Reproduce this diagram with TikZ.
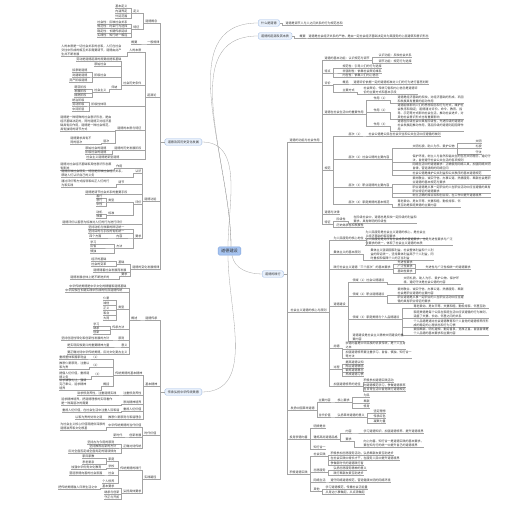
\documentclass[tikz,border=0pt]{standalone}
\usepackage{fontspec}
\setmainfont{Noto Sans CJK SC}
\XeTeXlinebreaklocale "zh"
\XeTeXlinebreakskip=0pt plus 0.5pt

\definecolor{textdark}{HTML}{333333}
\definecolor{linegray}{HTML}{A3A3A3}
\definecolor{topicfill}{HTML}{E8F0FB}
\definecolor{topicline}{HTML}{9DB9E3}
\definecolor{rootfill}{HTML}{A7C4F0}
\definecolor{rootline}{HTML}{7FA3DC}

% elbow links: right side and left side
\newcommand{\rkid}[2]{\draw[ln] (#1.south east) -- ++(2pt,0) |- (#2.south west);}
\newcommand{\lkid}[2]{\draw[ln] (#1.south west) -- ++(-2pt,0) |- (#2.south east);}

\tikzset{
  ln/.style={draw=linegray, line width=0.3pt},
  root/.style={draw=rootline, fill=rootfill, rounded corners=1.5pt, text=textdark,
    font=\fontsize{4.2}{5}\selectfont, inner xsep=3pt, inner ysep=2.2pt},
  topic/.style={draw=topicline, fill=topicfill, rounded corners=1.5pt, text=textdark,
    font=\fontsize{3.1}{4}\selectfont, inner xsep=3pt, inner ysep=1.8pt, line width=0.3pt},
  leaf/.style={font=\fontsize{3}{3.8}\selectfont, text=textdark, inner xsep=0.4pt, inner ysep=0.35pt,
    append after command={(\tikzlastnode.south west) edge[ln] (\tikzlastnode.south east)}},
  rt/.style={leaf, anchor=south west},
  lt/.style={leaf, anchor=south east},
  blk/.style={text width=#1, align=left},
}

\begin{document}
\begin{tikzpicture}[x=1pt, y=-1pt]
\useasboundingbox (0,0) rectangle (506,505);

% centre
\node[root] (root) at (229.5,251) {道德建设};

% right: top topics
\node[topic, anchor=west] (what) at (258,23) {什么是道德};
\node[rt] (what1) at (285,25) {道德是调节人与人之间关系的行为规范总和};
\draw[ln] (what.east) -- ++(2pt,0) |- (what1.south west);

\node[topic, anchor=west] (orig) at (258,36) {道德的起源及其本质};
\node[rt] (orig1) at (299,38) {概要};
\node[rt] (orig2) at (308,38) {道德是社会经济关系的产物，是由一定社会经济基础决定并为其服务的上层建筑和意识形态};
\draw[ln] (orig.east) -- ++(2pt,0) |- (orig1.south west);
\rkid{orig1}{orig2}

\node[topic, anchor=west] (dev) at (262,274) {道德的践行};

\draw[ln] ([xshift=1.5pt]root.north) to[out=90, in=180] (what.west);
\draw[ln] ([xshift=1.5pt]root.north) to[out=90, in=180] (orig.west);
\draw[ln] ([xshift=2.5pt]root.south) to[out=-80, in=180] (dev.west);

% functions and role
\node[rt] (fn) at (289,142) {道德的功能与社会作用};
\node[rt] (fn1) at (324,60) {道德的基本功能：认识规范与调节};
\foreach \i/\y/\t in {a/57/认识功能：反映社会关系, b/63/调节功能：规范行为选择}
  {\node[rt] (fn1\i) at (378,\y) {\t}; \rkid{fn1}{fn1\i}}
\node[rt] (fn2) at (324,73) {特点};
\foreach \i/\y/\t in {a/68.5/规范性：引导人们的行为选择, b/73/非强制性：依靠社会舆论维系, c/77.5/内在性：依靠人们内心信念}
  {\node[rt] (fn2\i) at (342,\y) {\t}; \rkid{fn2}{fn2\i}}
\node[rt] (fn3) at (324,85) {评价};
\node[rt] (fn3a) at (342,84) {概括};
\node[rt] (fn3b) at (353,84) {道德评价依据一定的道德标准对人们的行为进行善恶判断};
\node[rt] (fn3c) at (342,92) {主要方式};
\node[rt, blk=54pt] (fn3d) at (363,94) {社会舆论、传统习俗和内心信念是道德评价的主要方式和基本手段};
\rkid{fn3}{fn3a} \rkid{fn3}{fn3c} \rkid{fn3a}{fn3b} \rkid{fn3c}{fn3d}
\node[rt] (fn4) at (324,114) {道德在社会生活中的重要作用};
\node[rt] (fn4a) at (373,100) {作用（1）};
\node[rt, blk=66pt] (fn4b) at (397,103) {道德是经济基础的反映，对经济基础的形成、巩固和发展具有重要的能动作用};
\node[rt] (fn4c) at (373,112) {作用（2）};
\node[rt, blk=66pt] (fn4d) at (397,119) {道德能够影响人们的思想观念和行为方式，维护社会秩序和稳定；道德通过评价、命令、教育、指导、示范等方式影响社会生活，推动社会进步，对其他社会意识形式也有重要影响};
\node[rt] (fn4e) at (373,126) {作用（3）};
\node[rt, blk=66pt] (fn4f) at (397,131) {道德在阶级社会中具有阶级性，先进阶级的道德对社会发展起推动作用，落后阶级的道德则起阻碍作用};
\rkid{fn4}{fn4a} \rkid{fn4}{fn4c} \rkid{fn4}{fn4e}
\rkid{fn4a}{fn4b} \rkid{fn4c}{fn4d} \rkid{fn4e}{fn4f}
\node[rt] (fn5) at (324,170) {规范};
\node[rt] (fn51) at (348,136) {层次（1）};
\node[rt] (fn51a) at (368,136) {社会公德是公民在社会交往和公共生活中应遵循的准则};
\rkid{fn51}{fn51a}
\node[rt] (fn52) at (348,159) {层次（2）社会公德的主要内容};
\node[rt] (fn52a) at (412,148) {文明礼貌、助人为乐、爱护公物};
\foreach \i/\y/\t in {a/143/文明, b/148.5/礼貌, c/154/守法}
  {\node[rt] (fn52a\i) at (475,\y) {\t}; \rkid{fn52a}{fn52a\i}}
\node[rt, blk=78pt] (fn52b) at (412,162) {保护环境，树立人与自然和谐共生的生态文明理念，遵纪守法，自觉遵守社会公共生活的各项规则};
\node[rt, blk=78pt] (fn52c) at (412,170) {网络生活中的道德要求：正确使用网络工具，加强网络文明自律，营造清朗的网络空间};
\node[rt, blk=78pt] (fn52d) at (412,175) {社会公德是维护公共利益和公共秩序的基本道德规范};
\rkid{fn52}{fn52a} \rkid{fn52}{fn52b} \rkid{fn52}{fn52c} \rkid{fn52}{fn52d}
\node[rt] (fn53) at (348,187) {层次（3）职业道德的主要内容};
\node[rt, blk=78pt] (fn53a) at (412,184) {爱岗敬业、诚实守信、办事公道、热情服务、奉献社会是职业道德的基本规范与要求};
\node[rt, blk=78pt] (fn53b) at (412,193) {职业道德是从事一定职业的人在职业活动中应当遵循的具有职业特征的道德要求};
\node[rt, blk=78pt] (fn53c) at (412,197.5) {树立正确的择业观和创业观，在工作中提升道德境界};
\rkid{fn53}{fn53a} \rkid{fn53}{fn53b} \rkid{fn53}{fn53c}
\node[rt] (fn54) at (348,204) {层次（4）家庭美德的基本规范};
\node[rt, blk=63pt] (fn54a) at (397,207) {尊老爱幼、男女平等、夫妻和睦、勤俭持家、邻里互助是家庭美德的主要内容};
\rkid{fn54}{fn54a}
\foreach \k in {fn51,fn52,fn53,fn54} {\rkid{fn5}{\k}}
\node[rt] (fn6) at (324,214) {道德与法律};
\node[rt] (fn7) at (324,224) {特征};
\node[rt] (fn7a) at (336,221) {阶级性};
\node[rt, blk=63pt] (fn7b) at (353,223) {在阶级社会中，道德总是反映一定阶级的利益和要求，具有鲜明的阶级性};
\node[rt] (fn7c) at (336,227) {历史继承性和发展性};
\rkid{fn7}{fn7a} \rkid{fn7}{fn7c} \rkid{fn7a}{fn7b}
\foreach \k in {fn1,fn2,fn3,fn4,fn5,fn6,fn7} {\rkid{fn}{\k}}

% socialist morality
\node[rt] (soc) at (290,312) {社会主义道德的核心与原则};
\node[rt] (soc1) at (333,240) {为人民服务的核心地位};
\node[rt, blk=60pt] (soc1a) at (365,238) {为人民服务是社会主义道德的核心，是社会主义经济基础的客观要求};
\node[rt, blk=87pt] (soc1b) at (365,245.5) {为人民服务是对所有社会成员的普遍要求，也是先进性要求与广泛性要求的统一，体现了社会主义道德的本质};
\rkid{soc1}{soc1a} \rkid{soc1}{soc1b}
\node[rt] (soc2) at (333,254) {集体主义的基本原则};
\node[rt, blk=63pt] (soc2a) at (370,260) {集体主义强调国家利益、社会整体利益和个人利益的辩证统一，坚持集体利益高于个人利益，同时重视和保障个人的正当利益};
\rkid{soc2}{soc2a}
\node[rt] (soc3) at (333,269) {践行社会主义道德“三个层次”的基本要求};
\node[rt] (soc3s) at (425,269) {先进性与广泛性相统一的道德要求};
\foreach \i/\y/\t in {a/264/先进性要求, b/268.5/广泛性要求, c/273/基础性要求}
  {\node[rt] (soc3\i) at (397,\y) {\t}; \rkid{soc3}{soc3\i} \rkid{soc3\i}{soc3s}}
\node[rt] (soc4) at (333,306) {道德建设};
\node[rt] (soc4a) at (352,282) {领域（1）社会公德建设};
\node[rt, blk=57pt] (soc4a1) at (403,284) {文明礼貌、助人为乐、爱护公物、保护环境、遵纪守法是社会公德的内容};
\rkid{soc4a}{soc4a1}
\node[rt] (soc4b) at (352,296) {领域（2）职业道德建设};
\node[rt, blk=66pt] (soc4b1) at (397,295) {爱岗敬业、诚实守信、办事公道、热情服务、奉献社会是职业道德的主要内容};
\node[rt, blk=66pt] (soc4b2) at (397,303) {职业道德是从事一定职业的人在职业活动中应当遵循的具有职业特征的要求};
\rkid{soc4b}{soc4b1} \rkid{soc4b}{soc4b2}
\node[rt] (soc4c) at (352,319) {领域（3）家庭美德与个人品德建设};
\node[rt, blk=75pt] (soc4c1) at (413,308) {尊老爱幼、男女平等、夫妻和睦、勤俭持家、邻里互助};
\node[rt, blk=75pt] (soc4c2) at (413,318) {家庭美德是每个公民在家庭生活中应该遵循的行为准则，涵盖了夫妻、长幼、邻里之间的关系};
\node[rt, blk=75pt] (soc4c3) at (413,327) {个人品德是通过社会道德教育和个人自觉的道德修养所形成的稳定的心理状态和行为习惯};
\node[rt, blk=75pt] (soc4c4) at (413,335) {爱国奉献、明礼遵规、勤劳善良、宽厚正直、自强自律是个人品德的基本要求和主要内容};
\foreach \k in {soc4c1,soc4c2,soc4c3,soc4c4} {\rkid{soc4c}{\k}}
\node[rt, blk=51pt] (soc4d) at (352,341) {道德建设是社会主义精神文明建设的重要内容};
\foreach \k in {soc4a,soc4b,soc4c,soc4d} {\rkid{soc4}{\k}}
\node[rt] (soc5) at (333,348) {尚德};
\node[rt, blk=60pt] (soc5a) at (345,349) {崇德向善是中华民族的优良传统，是个人立身之本};
\node[rt, blk=66pt] (soc5b) at (345,358) {加强道德修养要注重学习、自省、慎独、知行合一等方法};
\rkid{soc5}{soc5a} \rkid{soc5}{soc5b}
\node[rt] (soc6) at (333,369) {过程};
\foreach \i/\y/\t in {a/364/提高道德认知, b/368/陶冶道德情感, c/372/锻炼道德意志, d/376/养成道德习惯}
  {\node[rt] (soc6\i) at (345,\y) {\t}; \rkid{soc6}{soc6\i}}
\node[rt] (soc7) at (333,386) {加强道德修养的途径};
\foreach \i/\y/\t in {a/382/积极参加道德实践活动, b/387/向道德模范学习，争做道德表率, c/391/在日常生活中自觉践行道德规范}
  {\node[rt] (soc7\i) at (363,\y) {\t}; \rkid{soc7}{soc7\i}}
\foreach \k in {soc1,soc2,soc3,soc4,soc5,soc6,soc7} {\rkid{soc}{\k}}

% revolutionary morality
\node[rt] (rev) at (290,410) {发扬中国革命道德};
\node[rt] (rev1) at (318,402) {主要内容};
\node[rt] (rev1a) at (337,402) {核心要求};
\foreach \i/\y/\t in {a/397/为民, b/403/奉献, c/408/修身}
  {\node[rt] (rev1a\i) at (363,\y) {\t}; \rkid{rev1a}{rev1a\i}}
\node[rt] (rev2) at (318,417) {当代价值};
\node[rt] (rev2a) at (337,417) {弘扬革命道德的意义};
\foreach \i/\y/\t in {a/413/坚定理想, b/418/传承红色, c/423/凝聚力量}
  {\node[rt] (rev2a\i) at (373,\y) {\t}; \rkid{rev2a}{rev2a\i}}
\rkid{rev}{rev1} \rkid{rev}{rev2} \rkid{rev1}{rev1a} \rkid{rev2}{rev2a}

% moral character
\node[rt] (chr) at (289,439) {投身崇德向善};
\node[rt] (chr1) at (313,428) {明辨是非};
\node[rt] (chr2) at (313,439) {锤炼高尚道德品格};
\node[rt] (chr2a) at (345,433) {内容};
\node[rt] (chr2b) at (363,433) {学习道德知识、加强道德修养、提升道德境界};
\node[rt] (chr2c) at (345,441) {要求};
\node[rt, blk=60pt] (chr2d) at (363,447) {向上向善、知行合一是道德实践的基本要求，要在知与行的统一中提升自己的道德境界};
\node[rt] (chr3) at (313,449) {知行合一};
\rkid{chr}{chr1} \rkid{chr}{chr2} \rkid{chr}{chr3}
\rkid{chr2}{chr2a} \rkid{chr2}{chr2c} \rkid{chr2a}{chr2b} \rkid{chr2c}{chr2d}

% moral practice
\node[rt] (act) at (289,474) {积极道德实践};
\node[rt] (act1) at (313,456) {社会实践};
\foreach \i/\y/\t in {a/455/积极参加志愿服务活动，弘扬奉献友爱互助进步, b/460/在社会实践中增长才干，在服务人民中提升道德境界, c/465/争做新时代的道德践行者}
  {\node[rt] (act1\i) at (330,\y) {\t}; \rkid{act1}{act1\i}}
\node[rt] (act2) at (313,472) {志愿服务};
\foreach \i/\y/\t in {a/470/弘扬志愿服务精神的意义, b/475/践行奉献友爱互助进步}
  {\node[rt] (act2\i) at (333,\y) {\t}; \rkid{act2}{act2\i}}
\node[rt] (act3) at (313,482) {网络生活};
\node[rt] (act3a) at (330,482) {遵守网络道德规范，营造健康文明的网络环境};
\rkid{act3}{act3a}
\node[rt] (act4) at (313,491) {其他};
\foreach \i/\y/\t in {a/489/学习道德模范，传播社会正能量, b/494/从身边小事做起，从点滴做起}
  {\node[rt] (act4\i) at (325,\y) {\t}; \rkid{act4}{act4\i}}
\foreach \k in {act1,act2,act3,act4} {\rkid{act}{\k}}

\foreach \k in {fn,soc,rev,chr,act} {\draw[ln] (dev.east) -- ++(3pt,0) |- (\k.south west);}

% left: first topic
\node[topic, anchor=east] (lb1) at (202,142) {道德及其历史变化发展};
\draw[ln] ([xshift=-1.5pt]root.north) to[out=90, in=0] (lb1.east);

\node[lt] (p1) at (158,23) {道德概念};
\node[lt] (p1a) at (140,13) {定义};
\foreach \i/\y/\t in {a/8/基本定义, b/13/内涵界定, c/18/外延范围}
  {\node[lt] (p1a\i) at (128,\y) {\t}; \lkid{p1a}{p1a\i}}
\node[lt] (p1b) at (140,29) {特征};
\foreach \i/\y/\t in {a/24/社会性：反映社会关系, b/28.5/规范性：约束行为选择, c/33/稳定性：长期传承延续, d/37.5/实践性：知行统一相连}
  {\node[lt] (p1b\i) at (128,\y) {\t}; \lkid{p1b}{p1b\i}}
\lkid{p1}{p1a} \lkid{p1}{p1b}

\node[lt] (p2) at (160,44) {一般规律};
\node[lt] (p2a) at (138,44) {概要};
\lkid{p2}{p2a}

\node[lt] (p3) at (157,97) {起源论};
\node[lt] (q1) at (142,52) {人的本质};
\node[lt, blk=60pt] (q1a) at (122,56) {人的本质是一切社会关系的总和，人们在社会交往中形成的相互关系需要调节，道德由此产生并不断发展};
\lkid{q1}{q1a}
\node[lt] (q2) at (142,85) {社会历史条件};
\node[lt] (q21) at (122,61) {劳动是道德起源的首要前提和基础};
\node[lt] (q22) at (107,66) {原始社会};
\node[lt] (q23) at (107,77) {阶级社会};
\foreach \i/\y/\t in {a/72/奴隶制道德, b/77/封建制道德, c/82/资产阶级道德}
  {\node[lt] (q23\i) at (88,\y) {\t}; \lkid{q23}{q23\i}}
\node[lt] (q24) at (118,89) {归纳};
\node[lt] (q25) at (107,92) {社会主义};
\foreach \i/\y/\t in {a/89/萌芽阶段, b/93/发展阶段, c/97/成熟阶段}
  {\node[lt] (q25\i) at (87,\y) {\t}; \lkid{q25}{q25\i}}
\lkid{q24}{q25}
\foreach \k in {q21,q22,q23,q24} {\lkid{q2}{\k}}
\node[lt] (q3) at (107,106) {阶级性体现};
\foreach \i/\y/\t in {a/102/统治阶级, b/106/劳动阶级, c/111/中间阶层}
  {\node[lt] (q3\i) at (85,\y) {\t}; \lkid{q3}{q3\i}}
\node[lt] (q4) at (142,130) {道德的本质与特征};
\node[lt, blk=51pt] (q4a) at (112,131) {道德是一种特殊的社会意识形态，是由经济基础决定的，同时道德又对经济基础具有反作用，道德是一种社会规范，具有独特的调节方式};
\node[lt] (q5) at (110,143) {层次};
\node[lt, blk=21pt] (q5a) at (92,144) {道德要求具有不同的层次};
\lkid{q4}{q4a} \lkid{q4}{q5} \lkid{q5}{q5a}
\node[lt] (q6) at (142,150) {道德的历史发展阶段};
\foreach \i/\y/\t in {a/150/原始社会的道德, b/154.5/阶级社会的道德}
  {\node[lt] (q6\i) at (107,\y) {\t}; \lkid{q6}{q6\i}}
\node[lt] (q7) at (120,159) {社会主义道德是新型道德};
\foreach \k in {q1,q2,q3,q4,q6,q7} {\lkid{p3}{\k}}

\node[lt] (p4) at (157,201) {道德功能};
\node[lt] (s1) at (123,168) {作用};
\node[lt, blk=51pt] (s1a) at (112,170) {道德对社会经济基础和其他意识形态都有影响};
\node[lt] (s2) at (142,173) {认识};
\node[lt, blk=63pt] (s2a) at (125,177) {道德反映社会现实，特别是反映社会经济关系，帮助人们认识自己的义务};
\node[lt] (s3) at (125,184) {调节};
\node[lt, blk=48pt] (s3a) at (110,187) {通过评价等方式指导和纠正人们的行为和实践};
\node[lt] (s4) at (128,194) {道德是调节社会关系的重要手段};
\lkid{s1}{s1a} \lkid{s2}{s2a} \lkid{s3}{s3a}
\node[lt] (s5) at (142,204) {评价};
\node[lt] (t1) at (115,202) {类型};
\foreach \i/\y/\t in {a/198/善行, b/202/恶行, c/206/中性}
  {\node[lt] (t1\i) at (103,\y) {\t}; \lkid{t1}{t1\i}}
\node[lt] (t2) at (115,215) {标准};
\foreach \i/\y/\t in {a/214/动机, b/218/效果}
  {\node[lt] (t2\i) at (103,\y) {\t}; \lkid{t2}{t2\i}}
\lkid{s5}{t1} \lkid{s5}{t2}
\node[lt] (s6) at (123,224) {道德评价以善恶为标准对人们的行为进行评价};
\node[lt] (s7) at (142,238) {要求};
\node[lt] (s7a) at (125,229) {坚持动机与效果的辩证统一};
\node[lt] (s7b) at (125,233) {坚持目的与手段的有机统一};
\node[lt] (s7c) at (123,238) {内容};
\node[lt] (s7d) at (102,238) {四个方面};
\node[lt] (s7e) at (123,248) {方法};
\foreach \i/\y/\t in {a/244/学习, b/248/反省, c/253/慎独}
  {\node[lt] (s7e\i) at (97,\y) {\t}; \lkid{s7e}{s7e\i}}
\lkid{s7c}{s7d}
\foreach \k in {s7a,s7b,s7c,s7e} {\lkid{s7}{\k}}
\foreach \k in {s1,s2,s3,s4,s5,s6,s7} {\lkid{p4}{\k}}

\node[lt] (p5) at (160,269) {道德的变化发展规律};
\node[lt] (u1) at (125,264) {基础};
\foreach \i/\y/\t in {a/261.5/经济的基础, b/266.5/社会的变革}
  {\node[lt] (u1\i) at (107,\y) {\t}; \lkid{u1}{u1\i}}
\node[lt] (u2) at (127,272) {道德随着社会发展而发展};
\node[lt] (u3) at (128,276.5) {要求};
\node[lt] (u3a) at (110,279.5) {道德发展总体上是不断进步的};
\lkid{u3}{u3a}
\foreach \k in {u1,u2,u3} {\lkid{p5}{\k}}

\foreach \k in {p1,p2,p3,p4,p5} {\draw[ln] (lb1.west) -- ++(-5pt,0) |- (\k.south east);}

% left: second topic
\node[topic, anchor=east] (lb2) at (202,392) {传承弘扬中华传统美德};
\draw[ln] ([xshift=-1.5pt]root.south) to[out=-90, in=0] (lb2.east);

\node[lt] (v1) at (158,320) {道德传承};
\node[lt] (v1a) at (138,320) {概述};
\node[lt] (w1) at (127,288) {中华传统美德是中华文化的精髓和道德基础};
\node[lt] (w2) at (123,292) {中华民族在长期实践中形成的优良道德传统};
\node[lt] (w3) at (125,309) {类型};
\foreach \i/\y/\t in {a/300/仁爱, b/305/诚信, c/310/正义, d/315/和合, e/320/大同}
  {\node[lt] (w3\i) at (110,\y) {\t}; \lkid{w3}{w3\i}}
\node[lt] (w4) at (125,329) {传承方法};
\foreach \i/\y/\t in {a/326/学习, b/330/继承, c/334/创新}
  {\node[lt] (w4\i) at (100,\y) {\t}; \lkid{w4}{w4\i}}
\node[lt] (w5) at (125,340) {原则};
\node[lt] (w5a) at (110,340) {坚持创造性转化和创新性发展的方针};
\node[lt] (w6) at (128,347) {意义};
\node[lt] (w6a) at (110,347) {是实现民族复兴的重要精神力量};
\node[lt] (w7) at (128,354) {要正确对待中华传统美德，反对文化复古主义};
\lkid{w5}{w5a} \lkid{w6}{w6a}
\foreach \k in {w1,w2,w3,w4,w5,w6,w7} {\lkid{v1a}{\k}}
\lkid{v1}{v1a}

\node[lt] (v2) at (158,386) {基本精神};
\node[lt] (x) at (143,375) {传统美德的基本精神};
\node[lt] (x1) at (100,359) {（1）};
\node[lt] (x1a) at (87,359) {重视整体和国家利益};
\node[lt] (x2) at (100,367) {（2）};
\node[lt, blk=30pt] (x2a) at (90,369) {推崇仁爱原则，注重以和为贵};
\node[lt] (x3) at (102,376) {（3）};
\node[lt, blk=30pt] (x3a) at (90,379) {提倡人伦价值，重视道德义务};
\node[lt] (x4) at (110,386) {概括};
\node[lt, blk=27pt] (x4a) at (87,390) {讲求谦敬礼让，强调克己奉公，追求精神境界};
\lkid{x1}{x1a} \lkid{x2}{x2a} \lkid{x3}{x3a} \lkid{x4}{x4a}
\foreach \k in {x1,x2,x3,x4} {\lkid{x}{\k}}
\node[lt] (y1) at (142,395) {注重修身养性};
\node[lt] (y1a) at (117,395) {讲求修身养性，注重道德实践};
\node[lt] (y2) at (142,404) {崇尚精神境界};
\node[lt, blk=51pt] (y2a) at (113,405) {追求精神境界，把道德理想的实现看作是一种高层次的需要};
\node[lt] (y3) at (142,411) {重视人伦价值};
\node[lt] (y3a) at (120,412) {重视人伦价值，在社会生活中注重人际和谐};
\node[lt] (y4) at (142,419) {推崇仁爱原则与和谐理念};
\node[lt] (y4a) at (103,419) {以和为贵的处世之道};
\lkid{y1}{y1a} \lkid{y2}{y2a} \lkid{y3}{y3a} \lkid{y4}{y4a}
\foreach \k in {x,y1,y2,y3,y4} {\lkid{v2}{\k}}

\node[lt] (v3) at (157,435) {时代价值};
\node[lt] (z1) at (142,427) {中华传统美德的当代价值};
\node[lt, blk=45pt] (z1a) at (106,430) {为社会主义核心价值观提供深厚的道德滋养和文化根基};
\node[lt] (z2) at (142,437) {创新发展};
\node[lt] (z2a) at (123,437) {新时代};
\node[lt] (z3) at (142,448) {正确对待传统};
\foreach \i/\x/\y/\t in {a/115/444/坚持古为今用的原则, b/117/448/坚持推陈出新的方针, c/117/453/反对全盘否定或全盘肯定的错误倾向}
  {\node[lt] (z3\i) at (\x,\y) {\t}; \lkid{z3}{z3\i}}
\lkid{z1}{z1a} \lkid{z2}{z2a}
\foreach \k in {z1,z2,z3} {\lkid{v3}{\k}}

\node[lt] (v4) at (157,479) {实践路径};
\node[lt] (aa1) at (142,470) {传统美德的践行};
\node[lt] (t5) at (115,461) {家庭};
\foreach \i/\y/\t in {a/458/家风家教, b/464/孝老爱亲}
  {\node[lt] (t5\i) at (95,\y) {\t}; \lkid{t5}{t5\i}}
\node[lt] (t6) at (115,468) {学校};
\node[lt] (t6a) at (102,469) {加强中华优秀文化教育};
\node[lt] (t7) at (115,475) {社会};
\node[lt] (t7a) at (103,475) {营造崇德向善的社会氛围};
\node[lt] (t8) at (115,483) {个人修养};
\lkid{t6}{t6a} \lkid{t7}{t7a}
\foreach \k in {t5,t6,t7,t8} {\lkid{aa1}{\k}}
\node[lt] (aa2) at (142,493) {弘扬具体要求};
\node[lt] (t9) at (115,488) {基本要求};
\node[lt] (t9a) at (98,489) {把传统美德融入日常生活之中};
\node[lt] (t10) at (120,494) {继承与创新};
\node[lt] (t11) at (120,499) {守正与开拓};
\lkid{t9}{t9a}
\foreach \k in {t9,t10,t11} {\lkid{aa2}{\k}}
\lkid{v4}{aa1} \lkid{v4}{aa2}

\foreach \k in {v1,v2,v3,v4} {\draw[ln] (lb2.west) -- ++(-5pt,0) |- (\k.south east);}
\end{tikzpicture}
\end{document}
